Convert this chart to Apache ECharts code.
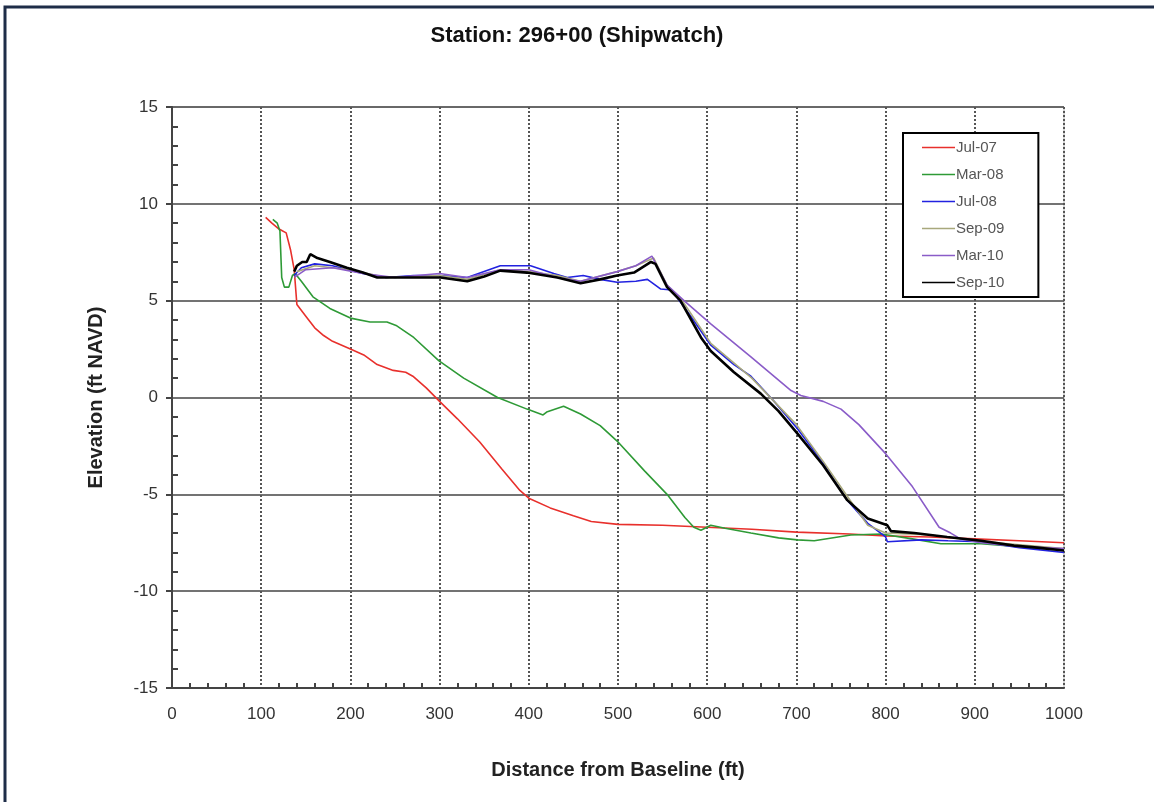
<!DOCTYPE html>
<html>
<head>
<meta charset="utf-8">
<script src="https://cdn.jsdelivr.net/npm/echarts@6/dist/echarts.min.js"></script>
<style>html,body{margin:0;padding:0;background:#fff;}#c{width:1154px;height:802px;}</style>
</head>
<body>
<div id="c"></div>
<script>
const seriesNames = ['Jul-07','Mar-08','Jul-08','Sep-09','Mar-10','Sep-10'];
const xTicks = [0,100,200,300,400,500,600,700,800,900,1000];
const yTicks = [-15,-10,-5,0,5,10,15];

const jul07 = [[105,9.3],[112,9.0],[120,8.7],[128,8.5],[133,7.6],[137,6.6],[140,4.8],[150,4.2],[160,3.6],[170,3.2],[180,2.9],[200,2.5],[215,2.2],[230,1.7],[248,1.4],[262,1.3],[270,1.1],[285,0.5],[300,-0.2],[320,-1.1],[345,-2.3],[370,-3.7],[390,-4.8],[400,-5.2],[424,-5.7],[450,-6.1],[470,-6.4],[500,-6.55],[550,-6.6],[600,-6.7],[650,-6.8],[700,-6.95],[760,-7.05],[800,-7.15],[850,-7.2],[900,-7.3],[950,-7.4],[1000,-7.5]];
const mar08 = [[113,9.2],[118,9.0],[121,8.6],[123,6.2],[126,5.7],[131,5.7],[135,6.3],[138,6.4],[145,6.0],[158,5.2],[177,4.6],[200,4.1],[222,3.9],[241,3.9],[252,3.7],[271,3.1],[299,1.9],[327,1.0],[365,0.0],[398,-0.6],[416,-0.9],[420,-0.75],[439,-0.45],[458,-0.85],[480,-1.45],[499,-2.25],[530,-3.8],[555,-5.0],[575,-6.2],[585,-6.7],[593,-6.85],[604,-6.6],[620,-6.75],[649,-7.0],[680,-7.25],[701,-7.35],[720,-7.4],[761,-7.1],[795,-7.05],[830,-7.3],[862,-7.55],[907,-7.55],[950,-7.7],[1000,-7.9]];
const jul08 = [[137,6.3],[145,6.7],[160,6.9],[180,6.8],[214,6.4],[240,6.2],[271,6.3],[300,6.3],[331,6.2],[368,6.8],[402,6.8],[428,6.4],[443,6.2],[461,6.3],[480,6.1],[499,5.95],[520,6.0],[533,6.1],[548,5.6],[560,5.55],[580,4.3],[604,2.7],[630,1.7],[649,1.1],[675,-0.2],[701,-1.6],[730,-3.4],[757,-5.3],[780,-6.5],[800,-7.2],[802,-7.45],[840,-7.35],[870,-7.4],[907,-7.45],[950,-7.75],[1000,-8.0]];
const sep09 = [[140,6.5],[160,6.8],[200,6.6],[240,6.2],[300,6.3],[331,6.1],[368,6.6],[400,6.5],[432,6.3],[458,6.0],[499,6.5],[520,6.8],[540,7.2],[555,5.8],[572,5.0],[604,2.8],[650,1.0],[700,-1.4],[730,-3.3],[757,-5.1],[780,-6.6],[800,-7.0],[850,-7.1],[900,-7.4],[950,-7.6],[1000,-7.8]];
const mar10 = [[137,6.2],[150,6.6],[180,6.7],[214,6.4],[250,6.2],[300,6.4],[331,6.2],[368,6.6],[400,6.6],[432,6.2],[458,6.0],[499,6.5],[520,6.8],[538,7.3],[555,5.8],[574,5.0],[604,3.8],[649,2.1],[667,1.4],[694,0.36],[705,0.1],[730,-0.2],[750,-0.6],[770,-1.4],[800,-2.9],[830,-4.6],[860,-6.7],[873,-7.0],[884,-7.3],[907,-7.5],[950,-7.7],[1000,-7.8]];
const sep10 = [[137,6.5],[140,6.8],[146,7.0],[151,7.0],[155,7.4],[163,7.2],[177,7.0],[196,6.7],[214,6.45],[230,6.2],[271,6.2],[301,6.2],[331,6.0],[350,6.25],[368,6.55],[398,6.45],[432,6.2],[458,5.9],[480,6.1],[499,6.3],[518,6.45],[537,7.0],[542,6.9],[555,5.7],[570,5.0],[593,3.1],[604,2.4],[630,1.3],[660,0.2],[680,-0.7],[701,-1.85],[730,-3.5],[757,-5.3],[780,-6.25],[802,-6.6],[806,-6.9],[832,-7.0],[869,-7.2],[907,-7.4],[944,-7.65],[970,-7.75],[1000,-7.9]];

const seriesData = [jul07, mar08, jul08, sep09, mar10, sep10];
const colors = ['#e8302c','#2e9a36','#2222e0','#a8a87c','#8a5cc8','#000000'];
const widths = [1.6,1.6,1.6,1.6,1.6,2.6];

const FONT = 'Liberation Sans, Arial, sans-serif';
const chart = echarts.init(document.getElementById('c'), null, {renderer:'canvas'});

const series = seriesNames.map((n,i)=>({
  name:n, type:'line', data:seriesData[i], showSymbol:false, symbol:'none',
  lineStyle:{color:colors[i], width:widths[i]}, itemStyle:{color:colors[i]},
  z: 3 + i, animation:false
}));

const legendData = seriesNames.map((n,i)=>({name:n, icon:'rect', itemStyle:{color:colors[i]}}));

chart.setOption({
  animation:false,
  backgroundColor:'#fff',
  title:{text:'Station: 296+00 (Shipwatch)', left:'center', top:20,
    textStyle:{fontFamily:FONT, fontSize:22, fontWeight:'bold', color:'#111'}},
  legend:{
    orient:'vertical', left:903, top:133,
    data:legendData, backgroundColor:'#fff', borderColor:'#000', borderWidth:2,
    padding:[7,34,7,19], itemGap:12, itemWidth:33, itemHeight:widths[0],
    textStyle:{fontFamily:FONT, fontSize:15, color:'#555', padding:[0,0,0,-4]}
  },
  graphic:[{type:'rect', shape:{x:5,y:7,width:1300,height:1000},
    style:{fill:'none', stroke:'#1e2d48', lineWidth:3}, z:100, silent:true}],
  grid:{left:172, right:90, top:107, bottom:114, show:true, borderColor:'#aaa', borderWidth:1, backgroundColor:'transparent'},
  xAxis:[{
    type:'value', min:0, max:1000, interval:100,
    name:'Distance from Baseline (ft)', nameLocation:'middle', nameGap:72,
    nameTextStyle:{fontFamily:FONT, fontSize:20, fontWeight:'bold', color:'#222'},
    axisLine:{show:true, onZero:false, lineStyle:{color:'#444', width:2}},
    axisTick:{show:true, inside:true, length:0, lineStyle:{color:'rgba(0,0,0,0)'}},
    minorTick:{show:true, splitNumber:5, length:5, lineStyle:{color:'#444', width:2}},
    axisLabel:{fontFamily:FONT, fontSize:17, color:'#333', margin:18, formatter:(v)=>String(v)},
    splitLine:{show:true, lineStyle:{color:'#555', width:2, type:[2,2]}}
  }],
  yAxis:[{
    type:'value', min:-15, max:15, interval:5,
    name:'Elevation (ft NAVD)', nameLocation:'middle', nameGap:66,
    nameTextStyle:{fontFamily:FONT, fontSize:20, fontWeight:'bold', color:'#222'},
    axisLine:{show:true, onZero:false, lineStyle:{color:'#444', width:2}},
    axisTick:{show:true, inside:false, length:6, lineStyle:{color:'#444', width:2}},
    minorTick:{show:false},
    axisLabel:{fontFamily:FONT, fontSize:17, color:'#333', margin:14},
    splitLine:{show:true, lineStyle:{color:'#444', width:1.5}}
  },{
    type:'value', min:-15, max:15, interval:5, position:'left',
    axisLine:{show:false}, axisLabel:{show:false}, splitLine:{show:false},
    axisTick:{show:true, inside:true, length:0, lineStyle:{color:'rgba(0,0,0,0)'}},
    minorTick:{show:true, splitNumber:5, length:6, lineStyle:{color:'#444', width:2}}
  }],
  series: series
});
</script>
</body>
</html>
